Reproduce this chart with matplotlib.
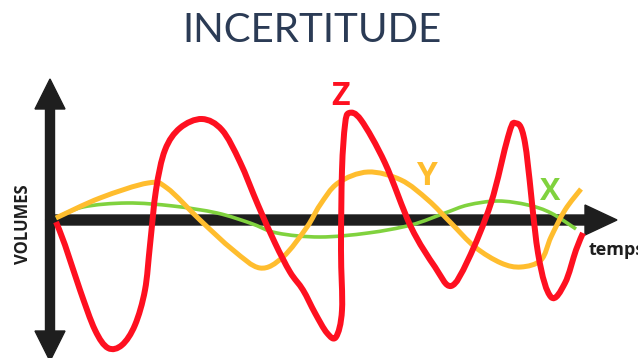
import matplotlib
matplotlib.use("Agg")
import matplotlib.pyplot as plt
import numpy as np
from matplotlib.patches import FancyArrow, PathPatch
from matplotlib.path import Path

# curve samples (pixel-like units, y grows downwards)
z_x = [56, 65, 80, 95, 108, 122, 135, 145, 150, 156, 165, 180, 202, 222, 240,
       258, 275, 290, 303, 315, 327, 336, 342, 341, 342, 345, 349, 361, 385,
       411, 435, 451, 468, 491, 508, 515, 525, 538, 551, 565, 576, 583]
z_y = [222, 245, 290, 330, 348, 345, 325, 290, 245, 190, 150, 128, 119, 130, 162,
       205, 243, 272, 290, 313, 333, 337, 310, 250, 170, 125, 113, 120, 163,
       227, 267, 286, 260, 203, 137, 123, 143, 253, 297, 283, 250, 233]

y_x = [56, 100, 148, 167, 200, 233, 260, 283, 307, 320, 338, 368, 401, 428,
       451, 475, 501, 521, 541, 551, 565, 581]
y_y = [218, 198, 183, 188, 220, 250, 268, 257, 227, 205, 183, 172, 180, 200,
       223, 247, 263, 267, 260, 237, 210, 189]

x_x = [56, 83, 127, 173, 217, 250, 277, 320, 368, 411, 445, 468, 498, 528,
       551, 576]
x_y = [218, 207, 203, 206, 213, 223, 233, 237, 233, 225, 213, 205, 201, 205,
       213, 229]

RED = "#fe1020"
YELLOW = "#ffbd2e"
GREEN = "#80d23e"
INK = "#1e1e1e"


def smooth_path(xs, ys):
    """Catmull-Rom through the samples, drawn as cubic Bezier segments."""
    p = np.column_stack([xs, ys]).astype(float)
    p = np.vstack([p[0], p, p[-1]])
    verts = [p[1]]
    codes = [Path.MOVETO]
    for i in range(1, len(p) - 2):
        c1 = p[i] + (p[i + 1] - p[i - 1]) / 6.0
        c2 = p[i + 1] - (p[i + 2] - p[i]) / 6.0
        verts += [c1, c2, p[i + 1]]
        codes += [Path.CURVE4] * 3
    return Path(verts, codes)


fig = plt.figure(figsize=(6.38, 3.58), dpi=100)
ax = fig.add_axes([0, 0, 1, 1])
ax.set_xlim(0, 638)
ax.set_ylim(358, 0)
ax.axis("off")

# axes arrows
ax.add_patch(FancyArrow(50, 220, 0, -141, width=9, head_width=30,
                        head_length=30, length_includes_head=True,
                        color=INK, zorder=1))
ax.add_patch(FancyArrow(50, 220, 0, 141, width=9, head_width=30,
                        head_length=30, length_includes_head=True,
                        color=INK, zorder=1))
ax.add_patch(FancyArrow(50, 220, 567, 0, width=10, head_width=30,
                        head_length=32, length_includes_head=True,
                        color=INK, zorder=1))

for xs, ys, col, lw, z in [(x_x, x_y, GREEN, 2.6, 2),
                           (y_x, y_y, YELLOW, 3.6, 3),
                           (z_x, z_y, RED, 4.3, 4)]:
    ax.add_patch(PathPatch(smooth_path(xs, ys), fill=False, edgecolor=col,
                           lw=lw, capstyle="butt", joinstyle="round",
                           zorder=z))

ax.text(341, 105, "Z", color=RED, fontsize=23, fontweight="bold",
        family="Open Sans", ha="center", va="baseline", zorder=5)
ax.text(426, 185, "Y", color=YELLOW, fontsize=24, fontweight="bold",
        family="Open Sans", ha="center", va="baseline", zorder=5)
ax.text(550, 200, "X", color=GREEN, fontsize=22, fontweight="bold",
        family="Open Sans", ha="center", va="baseline", zorder=5)

ax.text(589, 255, "temps", color=INK, fontsize=13, fontweight="bold",
        family="Open Sans", ha="left", va="baseline", zorder=5)
ax.text(23, 224, "VOLUMES", color=INK, fontsize=12, fontweight="bold",
        family="Open Sans", rotation=90, ha="center", va="center", zorder=5)

ax.text(312, 42, "INCERTITUDE", color="#2b3b55", fontsize=29,
        family="Lato", ha="center", va="baseline")

fig.savefig("out.png", dpi=100)
